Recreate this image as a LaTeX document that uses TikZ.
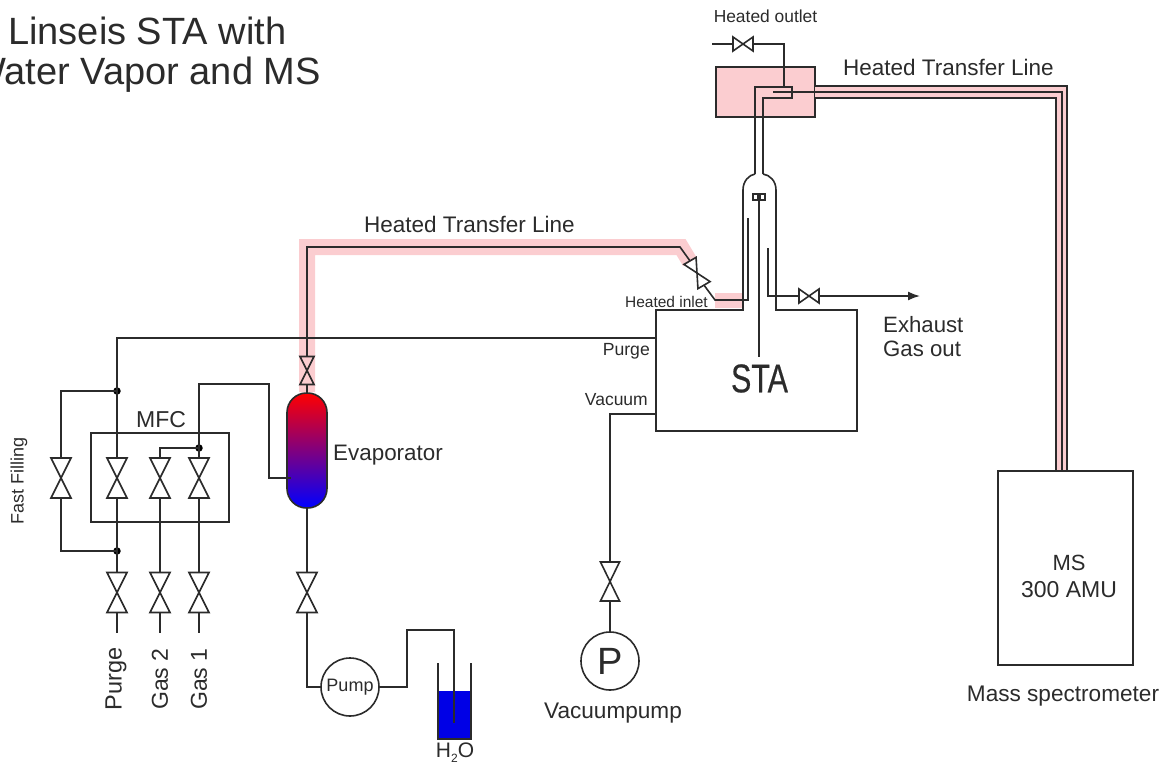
\documentclass[tikz,border=0pt]{standalone}
\usepackage{fontspec}
\setmainfont{Liberation Sans}
\newfontfamily\stafont[FakeBold=0.6]{Liberation Sans}
\usetikzlibrary{arrows.meta}
\definecolor{ink}{HTML}{2B2B2B}
\definecolor{heat}{HTML}{FBCDD0}
\definecolor{water}{HTML}{0000E6}
\tikzset{
  x=1pt,y=-1pt,
  line/.style={draw=ink,line width=1.6pt},
  pipe/.style={line,line join=miter},
  heatband/.style={draw=heat,line width=16pt},
  lbl/.style={text=ink,inner sep=0pt,font=\fontsize{#1}{#1}\selectfont},
  lbl/.default=22,
  dot/.style={circle,fill=black,inner sep=0pt,minimum size=7.5pt},
  pumpc/.style={circle,line,fill=white,inner sep=0pt,minimum size=58pt},
  box/.style={line,inner sep=0pt},
  pics/valve/.style n args={2}{code={
    \draw[line,line join=miter] (-#1,-#2) -- (#1,-#2) -- (-#1,#2) -- (#1,#2) -- cycle;
    \coordinate (-a) at (0,-#2);
    \coordinate (-b) at (0,#2);
  }},
}
\begin{document}
\begin{tikzpicture}
\useasboundingbox (0,0) rectangle (1171,766);
% heated zones
\draw[heatband,line join=miter] (307,392) -- (307,247) -- (681,247) -- (690,262);
\fill[heat] (715,293) rectangle (743,308);
\node[box,fill=heat,minimum width=99pt,minimum height=50pt] (hbox) at (765.5,92) {};
\fill[heat] (815,86) -- (1067,86) -- (1067,471) -- (1056,471) -- (1056,98) -- (815,98) -- cycle;
% title
\node[lbl=38,anchor=west] (t1) at (8,31) {Linseis STA with};
\node[lbl=38,anchor=east] (t2) at (321,75) {Water Vapor and MS};
% boxes
\node[box,minimum width=138pt,minimum height=89pt] (mfc) at (160,477.5) {};
\node[box,minimum width=135pt,minimum height=194pt] (ms) at (1065.5,568) {};
\node[inner sep=0pt,minimum width=201pt,minimum height=121pt] (sta) at (756.5,370.5) {};
\draw[pipe] (743,190) -- (743,310) -- (656,310) -- (656,431) -- (857,431) -- (857,310) -- (776,310) -- (776,190);
\draw[line] (743,190) .. controls (743,181) and (749,175) .. (755,174);
\draw[line] (776,190) .. controls (776,181) and (770,175) .. (763,174);
% evaporator
\node[box,minimum width=40pt,minimum height=115pt,rounded corners=19.5pt,top color=red,bottom color=blue] (ev) at (307,450.5) {};
% valves
\pic (vf) at (61,478) {valve={10}{20}};
\pic (vp) at (117,478) {valve={10}{20}};
\pic (vg2) at (160,478) {valve={10}{20}};
\pic (vg1) at (199,478) {valve={10}{20}};
\pic (lp) at (117,592.5) {valve={10}{20}};
\pic (lg2) at (160,592.5) {valve={10}{20}};
\pic (lg1) at (199,592.5) {valve={10}{20}};
\pic (lev) at (307,592.5) {valve={10}{20}};
\pic (vev) at (307,370.5) {valve={7}{14}};
\pic (vvac) at (610,581.5) {valve={9.5}{19.5}};
\pic[rotate=30] (vin) at (697,273) {valve={7}{14}};
\pic[rotate=90] (vout) at (743,44) {valve={7}{10}};
\pic[rotate=90] (vex) at (809,296) {valve={7}{10}};
% junctions
\node[dot] (j1) at (117,391) {};
\node[dot] (j2) at (117,551) {};
\node[dot] (j3) at (199,448) {};
% gas connectors
\coordinate (purgeend) at (656,338);
\draw[pipe] (purgeend) -- (117,338) -- (j1.center) -- (vp-a);
\draw[pipe] (j1.center) -- (61,391) -- (vf-a);
\draw[pipe] (vf-b) -- (61,551) -- (j2.center);
\draw[pipe] (vp-b) -- (j2.center) -- (lp-a);
\draw[pipe] (vg2-b) -- (lg2-a);
\draw[pipe] (vg1-b) -- (lg1-a);
\draw[pipe] (vg2-a) -- (160,448) -- (j3.center) -- (vg1-a);
\draw[pipe] (j3.center) -- (199,384) -- (269,384) -- (269,478) -- (291,478);
\coordinate (e1) at (117,633); \coordinate (e2) at (160,633); \coordinate (e3) at (199,633);
\draw[line] (lp-b) -- (e1);
\draw[line] (lg2-b) -- (e2);
\draw[line] (lg1-b) -- (e3);
% water
\node[pumpc] (pump) at (350,687) {};
\draw[line] (ev.south) -- (lev-a);
\draw[pipe] (lev-b) -- (307,687) -- (pump.west);
\fill[water] (438,691) rectangle (471,739);
\draw[pipe] (438,663) -- (438,739) -- (471,739) -- (471,663);
\draw[pipe] (pump.east) -- (407,687) -- (407,630) -- (454,630) -- (454,723);
% transfer to evaporator and valve
\draw[pipe] (ev.north) -- (vev-b);
\draw[pipe] (vev-a) -- (307,247) -- (680,247) -- (vin-a);
\draw[pipe] (vin-b) -- (715,300) -- (748,300) -- (748,218);
% vacuum
\node[pumpc] (vpump) at (610,661) {};
\draw[pipe] (656,414) -- (610,414) -- (vvac-a);
\draw[line] (vvac-b) -- (vpump.north);
% exhaust
\coordinate (exend) at (920,296);
\draw[pipe] (768,248) -- (768,296) -- (vex-a);
\draw[line,-{Latex[length=12pt,width=9pt]}] (vex-b) -- (exend);
% sample holder
\draw[line,line width=1.1pt] (752,200) -- (766,200);
\draw[line,line width=1.1pt] (753,200) -- (753,194) -- (758,194) -- (758,200);
\draw[line,line width=1.1pt] (760,200) -- (760,194) -- (765,194) -- (765,200);
\draw[line] (759,201) -- (759,357);
% outlet tubes
\draw[pipe] (755,174) -- (755,87) -- (792,87) -- (792,98) -- (763,98) -- (763,174);
\coordinate (oute) at (712,44);
\draw[line] (oute) -- (vout-a);
\draw[pipe] (vout-b) -- (784,44) -- (784,88);
% MS transfer lines
\draw[pipe] (815,86) -- (1067,86) -- (1067,471);
\draw[pipe] (773,92) -- (1062,92) -- (1062,471);
\draw[pipe] (815,98) -- (1056,98) -- (1056,471);
% labels
\node[lbl=22.5,anchor=west] (l1) at (364,224) {Heated Transfer Line};
\node[lbl=22.5,anchor=west] (l2) at (843,67) {Heated Transfer Line};
\node[lbl=17.4] (l3) at (765.5,16) {Heated outlet};
\node[lbl=15.5,anchor=east] (l4) at (708,302) {Heated inlet};
\node[lbl=17.6,anchor=east] (l5) at (650,351) {Purge};
\node[lbl=17.5,anchor=east] (l6) at (648,400) {Vacuum};
\node[lbl=40,xscale=0.76] (l7) at (759.5,378.5) {\stafont STA};
\node[lbl=22.2,anchor=west] (l8) at (883,325) {Exhaust};
\node[lbl=22.2,anchor=west] (l9) at (883,349) {Gas out};
\node[lbl=23] (l10) at (161,420) {MFC};
\node[lbl=22.4,anchor=west] (l11) at (333,455) {Evaporator};
\node[lbl=18,rotate=90] (l12) at (19,481) {Fast Filling};
\node[lbl=23.5,rotate=90] (l13) at (116,679) {Purge};
\node[lbl=23,rotate=90] (l14) at (160,679) {Gas 2};
\node[lbl=23,rotate=90] (l15) at (199,679) {Gas 1};
\node[lbl=18] (l16) at (pump) {Pump};
\node[lbl=38] (l17) at (vpump) {P};
\node[lbl=22.6] (l18) at (613,713) {Vacuumpump};
\node[lbl=22] (l19) at (1069,563) {MS};
\node[lbl=23] (l20) at (1069,590) {300 AMU};
\node[lbl=22.6] (l21) at (1063,696) {Mass spectrometer};
\node[lbl=21] (l22) at (455,753) {H\raisebox{-0.25em}{\fontsize{12}{12}\selectfont 2}O};
\end{tikzpicture}
\end{document}
